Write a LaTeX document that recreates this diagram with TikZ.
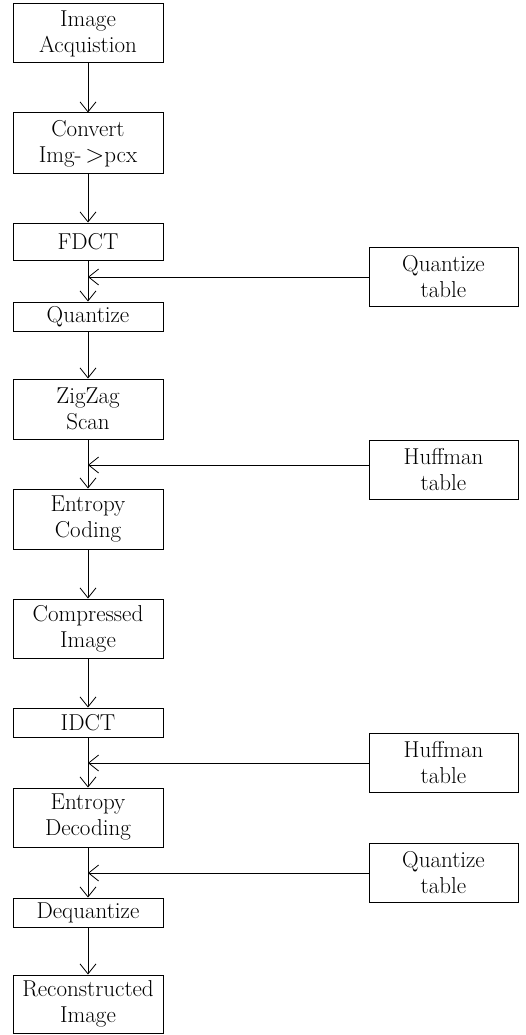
\documentclass[tikz,border=0pt]{standalone}
\usetikzlibrary{arrows.meta}
\begin{document}
\begin{tikzpicture}[x=1pt,y=-1pt,
  box/.style={draw,line width=1pt,inner sep=0pt,align=center,minimum width=150pt,
    font=\fontsize{23}{26}\selectfont},
  tbl/.style={box,minimum width=149pt,minimum height=59pt},
  arr/.style={line width=0.8pt,-{Straight Barb[length=10pt,width=16pt,line width=0.8pt]}}]
\useasboundingbox (0,0) rectangle (525,1035);
\node[box,minimum height=59pt] (acq) at (88,33.5) {Image\\Acquistion};
\node[box,minimum height=61pt] (conv) at (88,143.5) {Convert\\Img-\,$>$pcx};
\node[box,minimum height=37pt] (fdct) at (88,241.5) {FDCT};
\node[box,minimum height=29pt] (quant) at (88,316.5) {Quantize};
\node[box,minimum height=60pt] (zig) at (88,409) {ZigZag\\Scan};
\node[box,minimum height=60pt] (ec) at (88,519) {Entropy\\Coding};
\node[box,minimum height=59pt] (comp) at (88,628.5) {Compressed\\Image};
\node[box,minimum height=29pt] (idct) at (88,722.5) {IDCT};
\node[box,minimum height=59pt] (ed) at (88,817.5) {Entropy\\Decoding};
\node[box,minimum height=29pt] (deq) at (88,912.5) {Dequantize};
\node[box,minimum height=58pt] (rec) at (88,1004) {Reconstructed\\Image};
\node[tbl] (qt1) at (443.5,276.5) {Quantize\\table};
\node[tbl] (ht1) at (443.5,469.5) {Huffman\\table};
\node[tbl] (ht2) at (443.5,763) {Huffman\\table};
\node[tbl] (qt2) at (443.5,873) {Quantize\\table};
\draw[arr] (acq) -- (conv);
\draw[arr] (conv) -- (fdct);
\draw[arr] (fdct) -- (quant);
\draw[arr] (quant) -- (zig);
\draw[arr] (zig) -- (ec);
\draw[arr] (ec) -- (comp);
\draw[arr] (comp) -- (idct);
\draw[arr] (idct) -- (ed);
\draw[arr] (ed) -- (deq);
\draw[arr] (deq) -- (rec);
\coordinate (j1) at (88,277);
\coordinate (j2) at (88,465);
\coordinate (j3) at (88,763);
\coordinate (j4) at (88,873);
\draw[arr] (qt1.west |- j1) -- (j1);
\draw[arr] (ht1.west |- j2) -- (j2);
\draw[arr] (ht2.west |- j3) -- (j3);
\draw[arr] (qt2.west |- j4) -- (j4);
\end{tikzpicture}
\end{document}
